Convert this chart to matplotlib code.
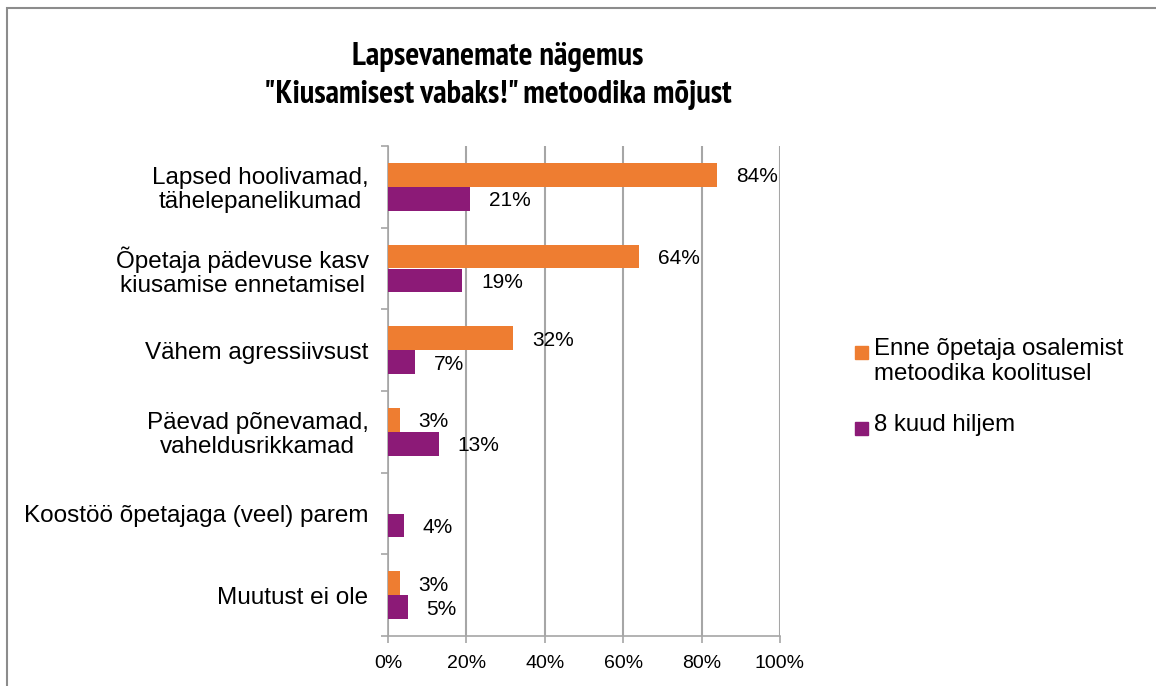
import matplotlib
matplotlib.use("Agg")
import matplotlib.pyplot as plt
from matplotlib import font_manager
from matplotlib.patches import Rectangle
from matplotlib.ticker import FuncFormatter
import numpy as np

# andmed
kategooriad = ["Lapsed hoolivamad,\ntähelepanelikumad",
               "Õpetaja pädevuse kasv\nkiusamise ennetamisel",
               "Vähem agressiivsust",
               "Päevad põnevamad,\nvaheldusrikkamad",
               "Koostöö õpetajaga (veel) parem",
               "Muutust ei ole"]
enne = [84, 64, 32, 3, None, 3]
hiljem = [21, 19, 7, 13, 4, 5]
seeria_nimed = ["Enne õpetaja osalemist\nmetoodika koolitusel", "8 kuud hiljem"]
x_ticks = [0, 20, 40, 60, 80, 100]

ORANZ = "#EE7D31"
LILLA = "#8C1A77"
HALL = "#A6A6A6"


def vali_kitsas_font():
    """Esimene kitsas font, millel on olemas paks (bold) loige."""
    kandidaadid = ["Liberation Sans Narrow", "Arial Narrow", "PT Sans Narrow",
                   "Roboto Condensed", "Pragati Narrow", "IBM Plex Sans Condensed",
                   "Fira Sans Condensed", "Encode Sans Condensed"]
    paksud = {f.name for f in font_manager.fontManager.ttflist
              if f.style == "normal" and f.weight in (700, "bold")}
    for k in kandidaadid:
        if k in paksud:
            return k
    return "Liberation Sans"


plt.rcParams["font.family"] = ["Liberation Sans", "DejaVu Sans"]
pealkirja_font = vali_kitsas_font()

fig = plt.figure(figsize=(11.56, 6.86), dpi=100)
ax = fig.add_axes([388 / 1156, 1 - 636 / 686, 392 / 1156, 490 / 686])

y = np.arange(len(kategooriad))
korgus = 0.29
nihe = 0.147

enne_arr = np.array([np.nan if v is None else v for v in enne], dtype=float)
hiljem_arr = np.array(hiljem, dtype=float)

mask = ~np.isnan(enne_arr)
ax.barh(y[mask] - nihe, enne_arr[mask], height=korgus, color=ORANZ, zorder=3)
ax.barh(y + nihe, hiljem_arr, height=korgus, color=LILLA, zorder=3)

# andmesildid
for yy, v in zip(y[mask] - nihe, enne_arr[mask]):
    ax.annotate(f"{v:.0f}%", (v, yy), xytext=(13.5, -1.5), textcoords="offset points",
                va="center", ha="left", fontsize=15)
for yy, v in zip(y + nihe, hiljem_arr):
    ax.annotate(f"{v:.0f}%", (v, yy), xytext=(13.5, -1.5), textcoords="offset points",
                va="center", ha="left", fontsize=15)

ax.set_xlim(0, 100)
ax.set_ylim(len(kategooriad) - 0.5, -0.5)
ax.set_xticks(x_ticks)
ax.xaxis.set_major_formatter(FuncFormatter(lambda v, p: f"{v:.0f}%"))
ax.set_yticks(y)
ax.set_yticklabels(kategooriad, fontsize=17.5, linespacing=1.1, multialignment="center")
ax.set_yticks(np.arange(-0.5, len(kategooriad)), minor=True)
ax.tick_params(axis="y", which="major", length=0, pad=14)
ax.tick_params(axis="y", which="minor", length=5, width=1.2, color=HALL, direction="out")
ax.tick_params(axis="x", length=5, width=1.2, color=HALL, labelsize=14, pad=9)

ax.grid(axis="x", color=HALL, linewidth=1.5, zorder=0)
ax.set_axisbelow(True)
for s in ["top", "right"]:
    ax.spines[s].set_visible(False)
for s in ["left", "bottom"]:
    ax.spines[s].set_color(HALL)
    ax.spines[s].set_linewidth(1.2)

# pealkiri
fig.text(498 / 1156, 1 - 42 / 686,
         'Lapsevanemate nägemus\n"Kiusamisest vabaks!" metoodika mõjust',
         ha="center", va="top", multialignment="center",
         fontsize=23.5, fontweight="bold", linespacing=1.36,
         family=[pealkirja_font, "Liberation Sans"])

# legend
legendi_y = [352, 428]
for nimi, varv, ly in zip(seeria_nimed, [ORANZ, LILLA], legendi_y):
    fig.patches.append(Rectangle((855 / 1156, 1 - (ly + 6.5) / 686), 13 / 1156, 13 / 686,
                                 transform=fig.transFigure, color=varv))
    fig.text(874 / 1156, 1 - (ly - 14) / 686, nimi, ha="left", va="top",
             fontsize=17.3, linespacing=1.15)

# raam
fig.patches.append(Rectangle((7 / 1156, -0.1), 1.2, 1 - 8 / 686 + 0.1,
                             transform=fig.transFigure, fill=False,
                             edgecolor="#8C8C8C", linewidth=1.5))

fig.savefig("out.png", dpi=100)
